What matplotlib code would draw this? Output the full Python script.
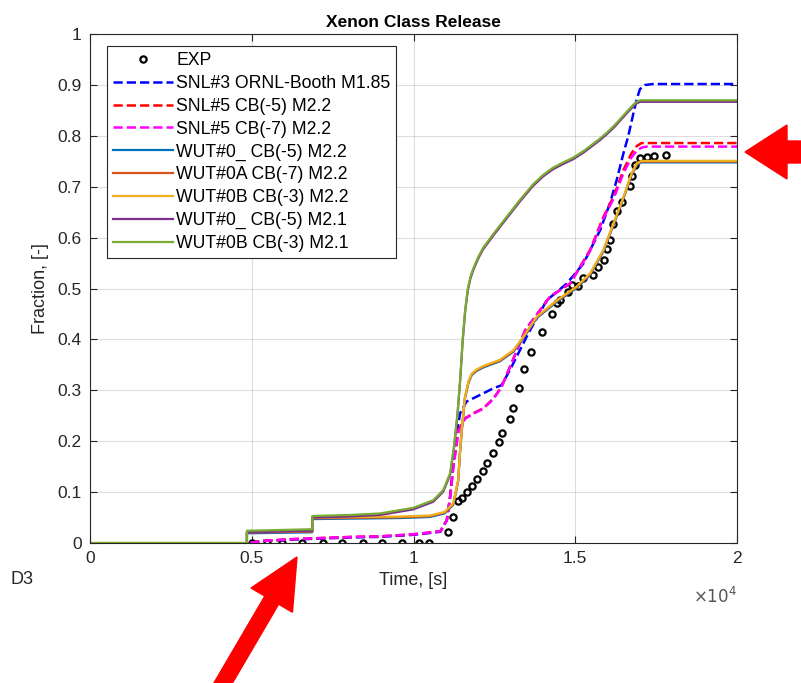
import matplotlib
matplotlib.use("Agg")
import matplotlib.pyplot as plt
from matplotlib.patches import FancyArrow
from matplotlib.transforms import IdentityTransform

plt.rcParams['font.family'] = ['Liberation Sans', 'DejaVu Sans']

# experiment
t_exp = [5000, 5460, 5920, 6540, 7210, 7780, 8430, 9030, 9630, 10180, 10490,
         11060, 11230, 11360, 11490, 11660, 11800, 11950, 12140, 12280, 12470,
         12640, 12750, 12980, 13060, 13260, 13420, 13640, 13970, 14290, 14450,
         14530, 14790, 14890, 15070, 15230, 15560, 15690, 15900, 15990, 16070,
         16180, 16300, 16460, 16690, 16740, 16850, 17000, 17210, 17440, 17820]
y_exp = [0, 0, 0, 0, 0, 0, 0, 0, 0, 0, 0,
         0.021, 0.052, 0.083, 0.089, 0.100, 0.112, 0.125, 0.142, 0.158, 0.177,
         0.198, 0.216, 0.243, 0.265, 0.305, 0.341, 0.376, 0.414, 0.451, 0.471,
         0.477, 0.494, 0.507, 0.506, 0.520, 0.527, 0.542, 0.557, 0.578, 0.595,
         0.626, 0.652, 0.671, 0.701, 0.721, 0.743, 0.756, 0.758, 0.760, 0.762]

# SNL#3 ORNL-Booth M1.85
t_snl3 = [4950, 5300, 6400, 8130, 8960, 9990, 10830, 11030, 11130, 11230, 11340,
          11440, 11640, 12060, 12470, 12720, 12980, 13290, 13550, 14120, 14740,
          15250, 15770, 16070, 16280, 16490, 16640, 16800, 16900, 17000, 17150,
          17400, 20000]
y_snl3 = [0, 0.004, 0.007, 0.011, 0.012, 0.016, 0.022, 0.045, 0.091, 0.157, 0.216,
          0.255, 0.278, 0.291, 0.304, 0.310, 0.340, 0.379, 0.412, 0.477, 0.510,
          0.549, 0.615, 0.667, 0.713, 0.766, 0.800, 0.845, 0.872, 0.892, 0.900,
          0.902, 0.902]

# SNL#5 CB(-5) M2.2 and CB(-7) M2.2
t_snl5 = [4950, 5300, 6400, 8130, 8960, 9990, 10830, 11030, 11130, 11230, 11390,
          11590, 11850, 12160, 12470, 12720, 12980, 13240, 13450, 14220, 14840,
          15460, 15870, 16180, 16490, 16740, 16900, 17050, 17200, 20000]
y_snl5_cb5 = [0, 0.004, 0.008, 0.012, 0.013, 0.017, 0.023, 0.045, 0.090, 0.150, 0.222,
              0.245, 0.255, 0.265, 0.284, 0.307, 0.346, 0.386, 0.418, 0.484, 0.510,
              0.576, 0.641, 0.680, 0.733, 0.766, 0.780, 0.786, 0.786, 0.786]
y_snl5_cb7 = [0, 0.004, 0.008, 0.012, 0.013, 0.017, 0.023, 0.044, 0.088, 0.148, 0.220,
              0.244, 0.254, 0.264, 0.283, 0.306, 0.345, 0.385, 0.418, 0.484, 0.510,
              0.574, 0.638, 0.676, 0.727, 0.758, 0.771, 0.777, 0.779, 0.779]

# WUT M2.2 runs
t_wut22 = [0, 4850, 4850, 6870, 6870, 9580, 10500, 10960, 11230, 11380, 11440,
           11490, 11590, 11700, 11800, 11950, 12160, 12670, 13090, 13390, 13810,
           14430, 15040, 15460, 15870, 16180, 16490, 16740, 16900, 17050, 20000]
y_wut0b_22 = [0, 0, 0.022, 0.024, 0.050, 0.052, 0.054, 0.061, 0.078, 0.124, 0.183,
              0.222, 0.287, 0.318, 0.333, 0.341, 0.348, 0.360, 0.379, 0.405, 0.445,
              0.477, 0.504, 0.530, 0.576, 0.628, 0.680, 0.726, 0.746, 0.751, 0.751]
y_wut0_22 = [v - 0.003 for v in y_wut0b_22]
y_wut0a_22 = [v - 0.0015 for v in y_wut0b_22]

# WUT M2.1 runs
t_wut21 = [0, 4850, 4850, 6870, 6870, 8000, 8960, 9990, 10610, 10920, 11130, 11250,
           11360, 11440, 11520, 11600, 11680, 11760, 11850, 12000, 12150, 12500,
           12880, 13300, 13700, 14000, 14300, 14600, 14930, 15250, 15500, 15750,
           15970, 16200, 16400, 16600, 16790, 16900, 17000, 20000]
y_wut0b_21 = [0, 0, 0.024, 0.027, 0.053, 0.055, 0.058, 0.069, 0.084, 0.104, 0.137, 0.189,
              0.255, 0.320, 0.400, 0.460, 0.500, 0.523, 0.540, 0.562, 0.580, 0.610,
              0.641, 0.675, 0.705, 0.723, 0.737, 0.747, 0.757, 0.770, 0.782, 0.794,
              0.806, 0.820, 0.834, 0.848, 0.861, 0.867, 0.870, 0.870]
y_wut0_21 = [v - 0.003 for v in y_wut0b_21]

fig = plt.figure(figsize=(8.01, 6.83), dpi=100)
ax = fig.add_axes([0.1124, 0.205, 0.8077, 0.745])

ax.plot(t_exp, y_exp, 'o', color='k', mfc='none', ms=4.5, mew=1.6, label='EXP')
ax.plot(t_snl3, y_snl3, '--', color='#0000FF', lw=1.8, label='SNL#3 ORNL-Booth M1.85')
ax.plot(t_snl5, y_snl5_cb5, '--', color='#FF0000', lw=1.8, label='SNL#5 CB(-5) M2.2')
ax.plot(t_snl5, y_snl5_cb7, '--', color='#FF00FF', lw=1.8, label='SNL#5 CB(-7) M2.2')
ax.plot(t_wut22, y_wut0_22, color='#0072BD', lw=1.6, label='WUT#0_ CB(-5) M2.2')
ax.plot(t_wut22, y_wut0a_22, color='#D95319', lw=1.6, label='WUT#0A CB(-7) M2.2')
ax.plot(t_wut22, y_wut0b_22, color='#EDB120', lw=1.6, label='WUT#0B CB(-3) M2.2')
ax.plot(t_wut21, y_wut0_21, color='#7E2F8E', lw=1.6, label='WUT#0_ CB(-5) M2.1')
ax.plot(t_wut21, y_wut0b_21, color='#77AC30', lw=1.6, label='WUT#0B CB(-3) M2.1')

ax.set_xlim(0, 20000)
ax.set_ylim(0, 1)
x_ticks = [0, 5000, 10000, 15000, 20000]
x_tick_labels = ['0', '0.5', '1', '1.5', '2']
y_ticks = [0, 0.1, 0.2, 0.3, 0.4, 0.5, 0.6, 0.7, 0.8, 0.9, 1]
y_tick_labels = ['0', '0.1', '0.2', '0.3', '0.4', '0.5', '0.6', '0.7', '0.8', '0.9', '1']
ax.set_xticks(x_ticks)
ax.set_xticklabels(x_tick_labels)
ax.set_yticks(y_ticks)
ax.set_yticklabels(y_tick_labels)
ax.tick_params(direction='in', length=5, width=0.8, labelsize=12.5,
               colors='#262626', top=True, right=True, pad=6)
ax.grid(True, color='#262626', alpha=0.15, lw=0.8)
for s in ax.spines.values():
    s.set_color('#262626')
    s.set_linewidth(0.8)

ax.set_title('Xenon Class Release', fontsize=12.5, fontweight='bold', pad=5)
ax.set_xlabel('Time, [s]', fontsize=13, color='#262626', labelpad=4)
ax.set_ylabel('Fraction, [-]', fontsize=13, color='#262626', labelpad=6)

leg = ax.legend(loc='upper left', bbox_to_anchor=(0.026, 0.976), borderaxespad=0,
                fontsize=12.7, handlelength=3.4, labelspacing=0.33, borderpad=0.33,
                handletextpad=0.2, fancybox=False, framealpha=1)
leg.get_frame().set_edgecolor('#262626')
leg.get_frame().set_linewidth(0.8)

fig.text(0.92, 0.117, r'$\times10^{4}$', fontsize=12, color='#555555', ha='right')
fig.text(0.013, 0.145, 'D3', fontsize=13, color='#262626')

# red annotation arrows (pixel coordinates)
fig.add_artist(FancyArrow(215, -14, 82, 140, width=16, head_width=48, head_length=50,
                          length_includes_head=True, color='#FF0000',
                          transform=IdentityTransform()))
fig.add_artist(FancyArrow(806, 531, -61, 0, width=22, head_width=54, head_length=42,
                          length_includes_head=True, color='#FF0000',
                          transform=IdentityTransform()))

fig.savefig('out.png', dpi=100)
